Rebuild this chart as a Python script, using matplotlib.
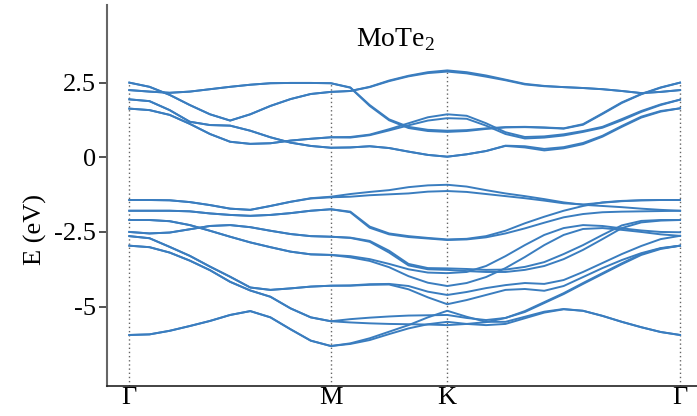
import numpy as np
import matplotlib
matplotlib.use('Agg')
import matplotlib.pyplot as plt

plt.rcParams['font.family'] = ['Liberation Serif', 'DejaVu Serif']
plt.rcParams['mathtext.fontset'] = 'custom'
plt.rcParams['mathtext.rm'] = 'Liberation Serif'

# ---- data -------------------------------------------------------------
title = 'MoTe$_2$'
ylabel = 'E (eV)'
kpoint_labels = ['Γ', 'M', 'K', 'Γ']
kpoint_pos = [0.0, 0.5774, 0.9107, 1.5774]
samples_per_segment = [11, 7, 13]
yticks = [2.5, 0, -2.5, -5]
ytick_labels = ['2.5', '0', '-2.5', '-5']

# conduction bands (eV), sampled along Γ-M | M-K | K-Γ
ca1 = [2.50, 2.36, 2.09, 1.75, 1.44, 1.23, 1.44, 1.72, 1.95, 2.12, 2.19,
       2.22, 2.36, 2.57, 2.73, 2.85, 2.91,
       2.85, 2.74, 2.60, 2.46, 2.39, 2.35, 2.32, 2.28, 2.22, 2.15, 2.19, 2.25]
ca2 = [2.50, 2.36, 2.09, 1.75, 1.44, 1.23, 1.44, 1.72, 1.95, 2.12, 2.19,
       2.22, 2.35, 2.55, 2.71, 2.82, 2.87,
       2.81, 2.70, 2.58, 2.44, 2.38, 2.35, 2.32, 2.28, 2.22, 2.15, 2.19, 2.25]
cb1 = [2.25, 2.20, 2.16, 2.20, 2.28, 2.36, 2.43, 2.48, 2.49, 2.49, 2.48,
       2.34, 1.75, 1.27, 1.02, 0.92, 0.89,
       0.91, 0.97, 1.01, 1.02, 1.00, 0.97, 1.11, 1.47, 1.84, 2.12, 2.34, 2.50]
cb2 = [2.25, 2.20, 2.16, 2.20, 2.28, 2.36, 2.43, 2.48, 2.49, 2.49, 2.48,
       2.33, 1.72, 1.24, 0.98, 0.88, 0.85,
       0.88, 0.95, 1.00, 1.01, 0.99, 0.96, 1.09, 1.45, 1.82, 2.11, 2.33, 2.50]
cp1 = [1.94, 1.88, 1.58, 1.19, 1.08, 1.06, 0.89, 0.67, 0.49, 0.38, 0.32,
       0.33, 0.37, 0.31, 0.19, 0.08, 0.02,
       0.10, 0.21, 0.38, 0.33, 0.23, 0.30, 0.44, 0.69, 1.02, 1.33, 1.53, 1.64]
cp2 = [1.94, 1.88, 1.58, 1.19, 1.08, 1.06, 0.89, 0.67, 0.49, 0.38, 0.32,
       0.33, 0.37, 0.31, 0.19, 0.08, 0.02,
       0.10, 0.21, 0.39, 0.37, 0.28, 0.34, 0.48, 0.72, 1.05, 1.36, 1.55, 1.64]
cq1 = [1.63, 1.58, 1.42, 1.12, 0.78, 0.52, 0.45, 0.47, 0.56, 0.62, 0.67,
       0.68, 0.76, 0.94, 1.14, 1.34, 1.44,
       1.39, 1.14, 0.84, 0.68, 0.70, 0.77, 0.88, 1.02, 1.28, 1.55, 1.77, 1.93]
cq2 = [1.63, 1.58, 1.42, 1.12, 0.78, 0.52, 0.45, 0.47, 0.56, 0.62, 0.67,
       0.66, 0.74, 0.90, 1.07, 1.23, 1.31,
       1.29, 1.06, 0.78, 0.63, 0.66, 0.73, 0.85, 0.99, 1.24, 1.52, 1.75, 1.93]

# valence bands (eV)
v1a = [-1.43, -1.43, -1.44, -1.50, -1.60, -1.72, -1.76, -1.63, -1.49, -1.37, -1.32,
       -1.23, -1.16, -1.10, -1.00, -0.94, -0.92,
       -0.98, -1.10, -1.21, -1.30, -1.40, -1.51, -1.59, -1.63, -1.67, -1.72, -1.76, -1.79]
v1b = [-1.43, -1.43, -1.44, -1.50, -1.60, -1.72, -1.76, -1.63, -1.49, -1.38, -1.34,
       -1.32, -1.27, -1.24, -1.21, -1.15, -1.13,
       -1.16, -1.23, -1.30, -1.37, -1.45, -1.54, -1.58, -1.52, -1.47, -1.44, -1.43, -1.43]
v2a = [-1.79, -1.79, -1.79, -1.81, -1.88, -1.93, -1.96, -1.93, -1.87, -1.79, -1.74,
       -1.82, -2.32, -2.55, -2.64, -2.70, -2.75,
       -2.73, -2.64, -2.46, -2.21, -1.99, -1.79, -1.63, -1.51, -1.46, -1.44, -1.43, -1.43]
v2b = [-1.79, -1.79, -1.79, -1.81, -1.88, -1.93, -1.96, -1.93, -1.87, -1.79, -1.74,
       -1.84, -2.36, -2.58, -2.67, -2.72, -2.77,
       -2.75, -2.68, -2.55, -2.38, -2.19, -2.01, -1.90, -1.84, -1.82, -1.81, -1.80, -1.79]
v3a = [-2.10, -2.10, -2.14, -2.27, -2.46, -2.66, -2.85, -3.01, -3.16, -3.25, -3.27,
       -3.31, -3.41, -3.57, -3.75, -3.86, -3.88,
       -3.84, -3.64, -3.31, -2.94, -2.60, -2.37, -2.27, -2.30, -2.38, -2.45, -2.50, -2.51]
v3b = [-2.10, -2.10, -2.14, -2.27, -2.46, -2.66, -2.85, -3.01, -3.16, -3.25, -3.27,
       -3.35, -3.47, -3.68, -3.98, -4.20, -4.31,
       -4.21, -4.01, -3.71, -3.34, -2.94, -2.60, -2.40, -2.37, -2.43, -2.50, -2.58, -2.63]
v4a = [-2.50, -2.55, -2.52, -2.41, -2.30, -2.27, -2.34, -2.46, -2.57, -2.64, -2.66,
       -2.69, -2.80, -3.13, -3.57, -3.71, -3.72,
       -3.74, -3.77, -3.76, -3.67, -3.51, -3.24, -2.94, -2.60, -2.28, -2.13, -2.10, -2.10]
v4b = [-2.50, -2.55, -2.52, -2.41, -2.30, -2.27, -2.34, -2.46, -2.57, -2.64, -2.66,
       -2.70, -2.83, -3.19, -3.62, -3.75, -3.77,
       -3.81, -3.84, -3.84, -3.77, -3.64, -3.41, -3.10, -2.74, -2.37, -2.18, -2.12, -2.10]
v5a = [-2.64, -2.71, -3.00, -3.30, -3.66, -4.00, -4.36, -4.44, -4.39, -4.33, -4.30,
       -4.29, -4.25, -4.24, -4.31, -4.50, -4.61,
       -4.51, -4.38, -4.28, -4.21, -4.24, -4.11, -3.84, -3.54, -3.24, -2.97, -2.74, -2.63]
v5b = [-2.64, -2.71, -3.00, -3.30, -3.66, -4.00, -4.36, -4.44, -4.39, -4.33, -4.30,
       -4.30, -4.27, -4.26, -4.42, -4.69, -4.92,
       -4.78, -4.61, -4.44, -4.41, -4.47, -4.31, -4.01, -3.71, -3.44, -3.21, -3.04, -2.96]
v6a = [-2.96, -3.01, -3.19, -3.46, -3.78, -4.17, -4.46, -4.67, -5.06, -5.36, -5.49,
       -5.42, -5.37, -5.33, -5.30, -5.29, -5.28,
       -5.38, -5.45, -5.38, -5.18, -4.88, -4.58, -4.24, -3.91, -3.58, -3.27, -3.07, -2.96]
v6b = [-2.96, -3.01, -3.19, -3.46, -3.78, -4.17, -4.46, -4.67, -5.06, -5.36, -5.49,
       -5.53, -5.56, -5.58, -5.59, -5.60, -5.62,
       -5.58, -5.52, -5.38, -5.15, -4.85, -4.55, -4.21, -3.88, -3.55, -3.24, -3.05, -2.96]
v7a = [-5.95, -5.93, -5.81, -5.65, -5.48, -5.28, -5.15, -5.36, -5.76, -6.14, -6.32,
       -6.23, -6.06, -5.84, -5.62, -5.36, -5.14,
       -5.34, -5.51, -5.51, -5.34, -5.17, -5.08, -5.14, -5.31, -5.51, -5.69, -5.85, -5.95]
v7b = [-5.95, -5.93, -5.81, -5.65, -5.48, -5.28, -5.15, -5.36, -5.76, -6.14, -6.32,
       -6.25, -6.12, -5.92, -5.73, -5.59, -5.51,
       -5.58, -5.62, -5.58, -5.39, -5.20, -5.09, -5.14, -5.31, -5.51, -5.69, -5.85, -5.95]

bands = [ca1, ca2, cb1, cb2, cp1, cp2, cq1, cq2,
         v1a, v1b, v2a, v2b, v3a, v3b, v4a, v4b, v5a, v5b, v6a, v6b, v7a, v7b]

# ---- k path sampling ---------------------------------------------------
kpath = []
for i, n in enumerate(samples_per_segment):
    seg = np.linspace(kpoint_pos[i], kpoint_pos[i + 1], n)
    kpath.extend(seg if i == 0 else seg[1:])
kpath = np.array(kpath)

# ---- figure --------------------------------------------------------------
line_color = '#3a7dbf'
fig = plt.figure(figsize=(6.97, 4.16), dpi=100)
ax = fig.add_axes([0.1535, 0.072, 0.8465, 0.916])
ax.set_xlim(-0.064, 1.626)
ax.set_ylim(-7.66, 5.10)

ymin = ax.get_ylim()[0]
band_arr = np.array(bands)
for kp in kpoint_pos:
    idx = int(np.argmin(np.abs(kpath - kp)))
    ax.vlines(kp, ymin, band_arr[:, idx].max(), colors='#666666',
              linestyles=(0, (1, 2)), linewidth=1.0, zorder=1)

for b in bands:
    ax.plot(kpath, b, color=line_color, linewidth=1.4, zorder=2,
            solid_joinstyle='round')

ax.set_xticks(kpoint_pos)
ax.set_xticklabels(kpoint_labels, fontsize=19)
ax.set_yticks(yticks)
ax.set_yticklabels(ytick_labels, fontsize=19)
ax.tick_params(axis='x', length=0, pad=1)
ax.tick_params(axis='y', length=6, width=1.2, direction='out', color='#333333', pad=2)
ax.set_ylabel(ylabel, fontsize=19)
ax.yaxis.set_label_coords(-0.102, 0.41)

for s in ['top', 'right']:
    ax.spines[s].set_visible(False)
ax.spines['left'].set_color('#666666')
ax.spines['left'].set_linewidth(1.5)
ax.spines['bottom'].set_color('#222222')
ax.spines['bottom'].set_linewidth(1.2)

ax.text(0.761, 3.95, title, fontsize=20, ha='center', va='center')

fig.savefig('out.png', dpi=100)
